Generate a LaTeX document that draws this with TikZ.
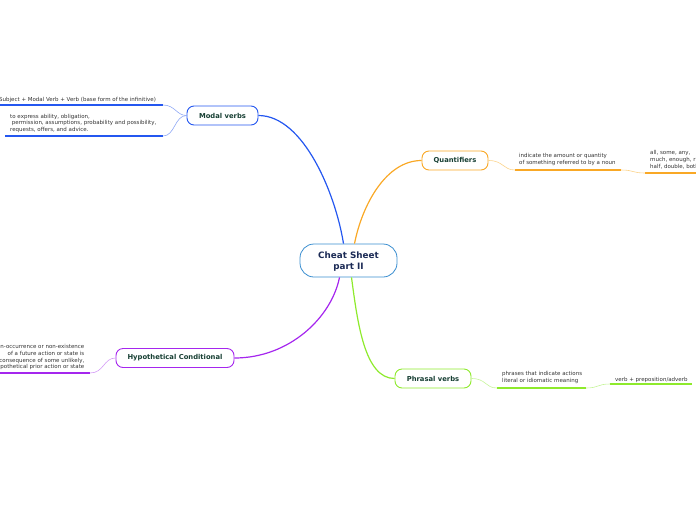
\documentclass[tikz,border=0pt]{standalone}
\usepackage{fontspec}
\setmainfont{DejaVu Sans}
\definecolor{cblue}{HTML}{2457F0}
\definecolor{cblueL}{HTML}{8FA8F5}
\definecolor{corange}{HTML}{F9A825}
\definecolor{corangeL}{HTML}{FBD38A}
\definecolor{cgreen}{HTML}{8EEA2C}
\definecolor{cgreenL}{HTML}{C6F59A}
\definecolor{cpurple}{HTML}{A526EE}
\definecolor{cpurpleL}{HTML}{D49CF6}
\definecolor{ccentral}{HTML}{3A8ED0}
\definecolor{navy}{HTML}{1B2A55}
\definecolor{lbl}{HTML}{173F33}
\definecolor{txt}{HTML}{333333}
\tikzset{
  central/.style={draw=ccentral, line width=0.8pt, rounded corners=14pt, fill=white,
    minimum width=97pt, minimum height=33pt, inner sep=0pt, align=center,
    font=\fontsize{8.8}{11}\selectfont\bfseries, text=navy},
  topic/.style={draw=#1, line width=0.9pt, rounded corners=7pt, fill=white,
    minimum height=19pt, inner sep=0pt, font=\fontsize{6.8}{8}\selectfont\bfseries, text=lbl},
  sub/.style={inner sep=0pt, font=\fontsize{5.5}{6.6}\selectfont, text=txt},
  mainlink/.style={line width=1.2pt, draw=#1},
  sublink/.style={line width=0.6pt, draw=#1},
  uline/.style={line width=1.6pt, draw=#1},
}
\begin{document}
\begin{tikzpicture}[x=1pt,y=-1pt]
\useasboundingbox (0,0) rectangle (696,520);
\clip (0,0) rectangle (696,520);

\coordinate (c0) at (348.5,260.5);
\node[topic=cblue, minimum width=71pt] (mv) at (222.5,115.5) {Modal verbs};
\node[topic=corange, minimum width=66pt] (q) at (455,160.5) {Quantifiers};
\node[topic=cgreen, minimum width=76pt] (pv) at (433,378.5) {Phrasal verbs};
\node[topic=cpurple, minimum width=118pt] (hc) at (175,358) {Hypothetical Conditional};
\node[central] (c) at (c0) {};
\node[inner sep=0pt, align=center, font=\fontsize{8.8}{11}\selectfont\bfseries, text=navy] (ct) at ([yshift=-1.5pt]c.center) {Cheat Sheet\\part II};

% main links
\draw[mainlink=cblue] (mv.east) .. controls +(45,0) and +(-8,-50) .. ([xshift=-5pt]c.north);
\draw[mainlink=corange] (q.west) .. controls +(-35,0) and +(8,-40) .. ([xshift=6pt]c.north);
\draw[mainlink=cgreen] (pv.west) .. controls +(-30,0) and +(6,45) .. ([xshift=3pt]c.south);
\draw[mainlink=cpurple] (hc.east) .. controls +(55,0) and +(-8,40) .. ([xshift=-9pt]c.south);

% Modal verbs subtopics
\node[sub, anchor=base west] (m1) at (-1,101) {Subject + Modal Verb + Verb (base form of};
\node[sub, anchor=base west] (m1b) at (m1.base east) {\hspace{1pt}\raisebox{-0.8pt}{the infinitive)}};
\coordinate (m1l) at (0,105);
\coordinate (m1r) at (163,105);
\draw[uline=cblue] (m1l) -- (m1r);
\draw[sublink=cblueL] (m1r) .. controls +(12,0) and +(-10,0) .. (mv.west);

\node[sub, anchor=north west, align=left] (m2) at (10,114) {to express ability, obligation,\\ \ permission, assumptions, probability and possibility,\\requests, offers, and advice.};
\coordinate (m2l) at (5,136);
\coordinate (m2r) at (163,136);
\draw[uline=cblue] (m2l) -- (m2r);
\draw[sublink=cblueL] (m2r) .. controls +(12,0) and +(-12,0) .. (mv.west);

% Quantifiers subtopics
\node[sub, anchor=north west, align=left] (q1) at (519,153.5) {indicate the amount or quantity\\of something referred to by a noun};
\coordinate (q1l) at (515,170);
\coordinate (q1r) at (621,170);
\draw[uline=corange] (q1l) -- (q1r);
\draw[sublink=corangeL] (q.east) .. controls +(15,0) and +(-12,0) .. (q1l);

\node[sub, anchor=north west, align=left] (q2) at (650,150.5) {all, some, any,\\much, enough, r\\half, double, both};
\coordinate (q2l) at (645,173);
\coordinate (q2r) at (696,173);
\draw[uline=corange] (q2l) -- (q2r);
\draw[sublink=corangeL] (q1r) .. controls +(13,0) and +(-13,0) .. (q2l);

% Phrasal verbs subtopics
\node[sub, anchor=north west, align=left] (p1) at (502,371.5) {phrases that indicate actions\\literal or idiomatic meaning};
\coordinate (p1l) at (497,388);
\coordinate (p1r) at (586,388);
\draw[uline=cgreen] (p1l) -- (p1r);
\draw[sublink=cgreenL] (pv.east) .. controls +(15,0) and +(-12,0) .. (p1l);

\node[sub, anchor=base west] (p2) at (615,381.5) {verb + preposition/adverb};
\coordinate (p2l) at (610,384);
\coordinate (p2r) at (692,384);
\draw[uline=cgreen] (p2l) -- (p2r);
\draw[sublink=cgreenL] (p1r) .. controls +(13,0) and +(-13,0) .. (p2l);

% Hypothetical Conditional subtopic
\node[sub, anchor=north east, align=right] (h1) at (84.5,344.5) {Non-occurrence or non-existence\\of a future action or state is\\the consequence of some unlikely,\\hypothetical prior action or state};
\coordinate (h1l) at (0,373);
\coordinate (h1r) at (90,373);
\draw[uline=cpurple] (h1l) -- (h1r);
\draw[sublink=cpurpleL] (h1r) .. controls +(14,0) and +(-12,0) .. (hc.west);
\end{tikzpicture}
\end{document}
